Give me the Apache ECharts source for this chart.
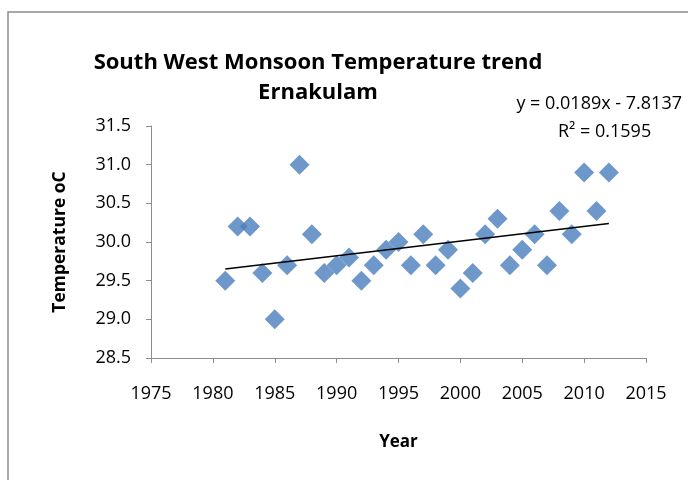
<!DOCTYPE html>
<html>
<head>
<meta charset="utf-8">
<script src="https://cdn.jsdelivr.net/npm/echarts@6/dist/echarts.min.js"></script>
<style>html,body{margin:0;padding:0;background:#fff}#c{width:688px;height:480px}</style>
</head>
<body>
<div id="c"></div>
<script>
const years = [1981,1982,1983,1984,1985,1986,1987,1988,1989,1990,1991,1992,1993,1994,1995,1996,1997,1998,1999,2000,2001,2002,2003,2004,2005,2006,2007,2008,2009,2010,2011,2012];
const temps = [29.5,30.2,30.2,29.6,29.0,29.7,31.0,30.1,29.6,29.7,29.8,29.5,29.7,29.9,30.0,29.7,30.1,29.7,29.9,29.4,29.6,30.1,30.3,29.7,29.9,30.1,29.7,30.4,30.1,30.9,30.4,30.9];
const trendYears = [1981, 2012];
const trendTemps = [29.65, 30.24];
const titleLines = ['South West Monsoon Temperature trend', 'Ernakulam'];
const equationText = 'y = 0.0189x - 7.8137';
const r2Text = 'R² = 0.1595';

const FONT = '"Open Sans", sans-serif';
const chart = echarts.init(document.getElementById('c'));
chart.setOption({
  animation: false,
  backgroundColor: '#fff',
  textStyle: { fontFamily: FONT, color: '#000' },
  title: [
    { text: titleLines.join('\n'), left: 313, top: 43, textAlign: 'center',
      textStyle: { fontFamily: FONT, fontSize: 22, fontWeight: 'bold', color: '#000', lineHeight: 30 } },
    { text: equationText, right: 1, top: 90,
      textStyle: { fontFamily: FONT, fontSize: 18, fontWeight: 'normal', color: '#000' } },
    { text: r2Text, left: 553, top: 118,
      textStyle: { fontFamily: FONT, fontSize: 18, fontWeight: 'normal', color: '#000' } }
  ],
  graphic: [
    { type: 'rect', shape: { x: 8, y: 12, width: 700, height: 480 }, silent: true, z: -1,
      style: { fill: 'none', stroke: '#8c8c8c', lineWidth: 1.5 } }
  ],
  grid: { left: 151, right: 42, top: 126, bottom: 122 },
  xAxis: {
    type: 'value', min: 1975, max: 2015, interval: 5,
    name: 'Year', nameLocation: 'middle', nameGap: 76,
    nameTextStyle: { fontFamily: FONT, fontSize: 17, fontWeight: 'bold', color: '#000' },
    axisLine: { show: true, onZero: false, lineStyle: { color: '#8c8c8c', width: 1 } },
    axisTick: { show: true, length: 5, lineStyle: { color: '#8c8c8c' } },
    axisLabel: { fontFamily: FONT, fontSize: 18, color: '#000', margin: 27,
      formatter: v => String(v) },
    splitLine: { show: false }
  },
  yAxis: {
    type: 'value', min: 28.5, max: 31.5, interval: 0.5,
    name: 'Temperature oC', nameLocation: 'middle', nameGap: 82, nameRotate: 90,
    nameTextStyle: { fontFamily: FONT, fontSize: 17.5, fontWeight: 'bold', color: '#000' },
    axisLine: { show: true, lineStyle: { color: '#8c8c8c', width: 1 } },
    axisTick: { show: true, length: 5, lineStyle: { color: '#8c8c8c' } },
    axisLabel: { fontFamily: FONT, fontSize: 18, color: '#000', margin: 20,
      formatter: v => v.toFixed(1) },
    splitLine: { show: false }
  },
  series: [
    { type: 'scatter', symbol: 'diamond', symbolSize: 20,
      itemStyle: { color: '#4a7ebb' },
      data: years.map((y, i) => [y, temps[i]]), z: 2 },
    { type: 'line', symbol: 'none', silent: true,
      lineStyle: { color: '#000', width: 1.5 },
      data: trendYears.map((y, i) => [y, trendTemps[i]]), z: 3 }
  ]
});
</script>
</body>
</html>
